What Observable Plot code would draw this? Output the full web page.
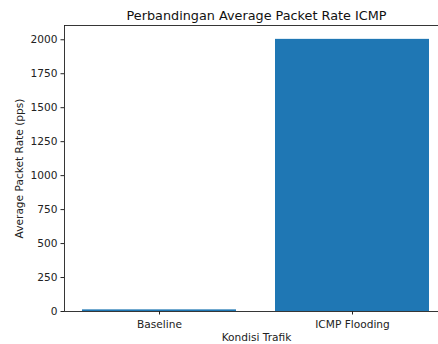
<!DOCTYPE html>
<html>
<head>
<meta charset="utf-8">
<script src="https://cdn.jsdelivr.net/npm/d3@7"></script>
<script src="https://cdn.jsdelivr.net/npm/@observablehq/plot@0.6"></script>
<style>
  html, body { margin: 0; padding: 0; background: #fff; overflow: hidden; }
  #chart { width: 438px; height: 344px; overflow: hidden; }
  #chart svg { max-width: none !important; width: 448px !important; height: 344px !important; font-family: "DejaVu Sans", sans-serif; }
</style>
</head>
<body>
<div id="chart"></div>
<script>
const categories = ["Baseline", "ICMP Flooding"];
const values = [12, 2003];
const yTicks = [0, 250, 500, 750, 1000, 1250, 1500, 1750, 2000];
const title = "Perbandingan Average Packet Rate ICMP";
const xLabel = "Kondisi Trafik";
const yLabel = "Average Packet Rate (pps)";

const data = categories.map((c, i) => ({ kondisi: c, rate: values[i] }));

const chart = Plot.plot({
  width: 448,
  height: 344,
  marginTop: 25,
  marginBottom: 33,
  marginLeft: 64,
  marginRight: 0,
  style: { fontFamily: "DejaVu Sans, sans-serif", fontSize: "10.6px", color: "#222", background: "#fff", maxWidth: "none" },
  x: { domain: categories, paddingInner: 0.2, paddingOuter: 0.09, label: null },
  y: { domain: [0, 2105], label: null },
  marks: [
    Plot.barY(data, { x: "kondisi", y: "rate", fill: "#1f77b4" }),
    Plot.frame({ stroke: "#222", strokeWidth: 0.9 }),
    Plot.axisY({ ticks: yTicks, tickFormat: d3.format("d"), tickSize: 3.5, tickPadding: 3.5, label: null, fontSize: 10.6, stroke: "#222" }),
    Plot.axisX({ tickSize: 3.5, tickPadding: 5.5, label: null, fontSize: 10.6, stroke: "#222" }),
    Plot.text([title], { frameAnchor: "top", lineAnchor: "middle", dy: -10, fontSize: 12.8, fill: "#111" }),
    Plot.text([xLabel], { frameAnchor: "bottom", lineAnchor: "middle", dy: 26.3, fontSize: 10.6, fill: "#222" }),
    Plot.text([yLabel], { frameAnchor: "left", textAnchor: "middle", lineAnchor: "middle", dx: -44.5, rotate: -90, fontSize: 10.6, fill: "#222" })
  ]
});
document.getElementById("chart").appendChild(chart);
</script>
</body>
</html>
